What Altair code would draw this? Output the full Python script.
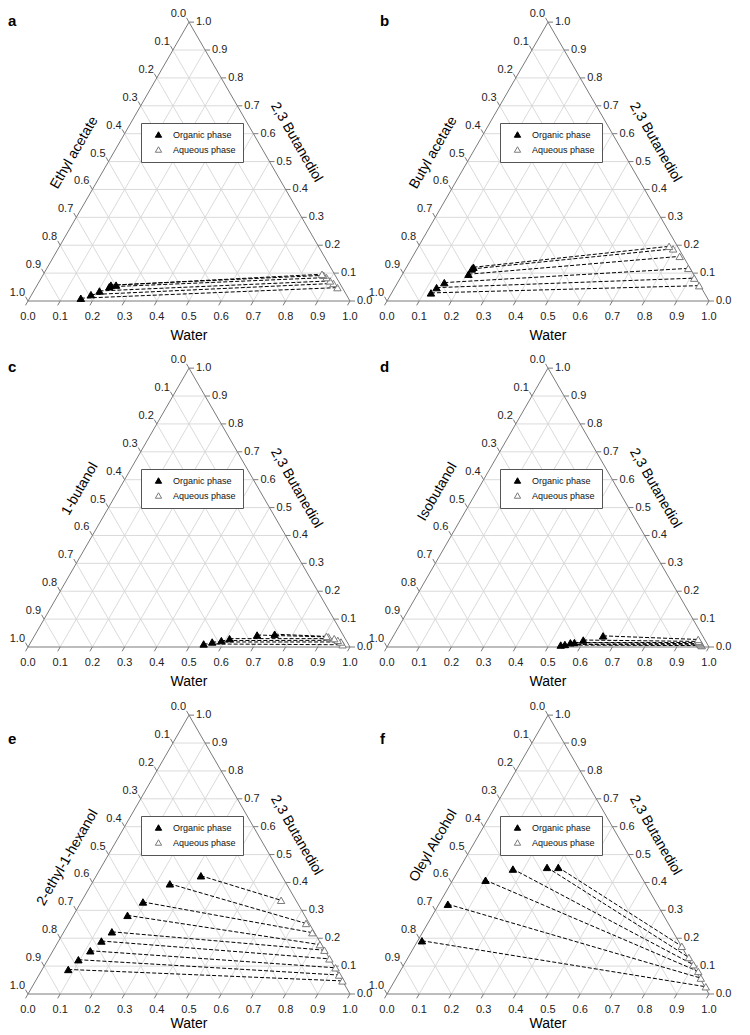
import math
import altair as alt
import pandas as pd

# ---------------- data ----------------
LETTERS = ["a", "b", "c", "d", "e", "f"]
SOLVENTS = ["Ethyl acetate", "Butyl acetate", "1-butanol", "Isobutanol",
            "2-ethyl-1-hexanol", "Oleyl Alcohol"]
WATER_TITLE = "Water"
BDO_TITLE = "2,3 Butanediol"
PHASES = ["Organic phase", "Aqueous phase"]
TICKS = [0.0, 0.1, 0.2, 0.3, 0.4, 0.5, 0.6, 0.7, 0.8, 0.9, 1.0]
TICK_LABELS = ["0.0", "0.1", "0.2", "0.3", "0.4", "0.5", "0.6", "0.7", "0.8", "0.9", "1.0"]

# mass fractions (water, 2,3-butanediol); solvent = 1 - water - butanediol
a_org_water = [0.159, 0.184, 0.204, 0.227, 0.229, 0.245]
a_org_bdo = [0.010, 0.023, 0.036, 0.051, 0.057, 0.057]
a_aq_water = [0.937, 0.917, 0.902, 0.885, 0.872, 0.865]
a_aq_bdo = [0.048, 0.063, 0.072, 0.084, 0.092, 0.096]

b_org_water = [0.122, 0.130, 0.145, 0.205, 0.206, 0.208]
b_org_bdo = [0.029, 0.048, 0.066, 0.096, 0.115, 0.121]
b_aq_water = [0.942, 0.913, 0.877, 0.829, 0.795, 0.778]
b_aq_bdo = [0.055, 0.082, 0.117, 0.160, 0.187, 0.196]

c_org_water = [0.540, 0.563, 0.589, 0.611, 0.690, 0.743]
c_org_bdo = [0.011, 0.018, 0.023, 0.030, 0.043, 0.046]
c_aq_water = [0.973, 0.963, 0.950, 0.936, 0.915, 0.908]
c_aq_bdo = [0.008, 0.018, 0.024, 0.030, 0.036, 0.038]

d_org_water = [0.536, 0.548, 0.562, 0.574, 0.597, 0.651]
d_org_bdo = [0.007, 0.009, 0.015, 0.016, 0.025, 0.040]
d_aq_water = [0.975, 0.971, 0.966, 0.962, 0.958, 0.953]
d_aq_bdo = [0.005, 0.008, 0.012, 0.016, 0.020, 0.027]

e_org_water = [0.081, 0.095, 0.116, 0.133, 0.149, 0.168, 0.192, 0.243, 0.325]
e_org_bdo = [0.088, 0.123, 0.155, 0.190, 0.223, 0.282, 0.330, 0.395, 0.424]
e_aq_water = [0.953, 0.932, 0.908, 0.873, 0.842, 0.818, 0.773, 0.737, 0.618]
e_aq_bdo = [0.047, 0.068, 0.094, 0.126, 0.157, 0.177, 0.220, 0.253, 0.336]

f_org_water = [0.013, 0.028, 0.102, 0.167, 0.270, 0.305]
f_org_bdo = [0.191, 0.322, 0.408, 0.448, 0.454, 0.454]
f_aq_water = [0.977, 0.946, 0.926, 0.899, 0.872, 0.830]
f_aq_bdo = [0.026, 0.057, 0.081, 0.105, 0.131, 0.171]

ORG = [(a_org_water, a_org_bdo), (b_org_water, b_org_bdo), (c_org_water, c_org_bdo),
       (d_org_water, d_org_bdo), (e_org_water, e_org_bdo), (f_org_water, f_org_bdo)]
AQ = [(a_aq_water, a_aq_bdo), (b_aq_water, b_aq_bdo), (c_aq_water, c_aq_bdo),
      (d_aq_water, d_aq_bdo), (e_aq_water, e_aq_bdo), (f_aq_water, f_aq_bdo)]

# ---------------- layout / style ----------------
FONT = "Liberation Sans"
S = 322.0                      # triangle side in px
SQ = math.sqrt(3) / 2
COLS = [dict(w=367, ox=20, lx=0), dict(w=367, ox=12, lx=5)]
ROWS = [dict(h=342, base=288, wt=35, ly=8),
        dict(h=342, base=292, wt=35, ly=12),
        dict(h=335, base=297, wt=30, ly=42)]


def cart(w, b):
    return w + b / 2.0, b * SQ


def seg(p, q):
    return dict(x=p[0], y=p[1], x2=q[0], y2=q[1])


grid_rows = []
for k in TICKS[1:-1]:
    grid_rows.append(seg(cart(0, k), cart(1 - k, k)))
    grid_rows.append(seg(cart(k, 0), cart(k, 1 - k)))
    grid_rows.append(seg(cart(1 - k, 0), cart(0, 1 - k)))
grid_df = pd.DataFrame(grid_rows)

edge_df = pd.DataFrame([seg(cart(0, 0), cart(1, 0)),
                        seg(cart(1, 0), cart(0, 1)),
                        seg(cart(0, 0), cart(0, 1))])

TL = 5.0 / S
tick_rows, bot_lab, right_lab, left_lab = [], [], [], []
for k, lab in zip(TICKS, TICK_LABELS):
    p = cart(k, 0)
    tick_rows.append(seg(p, (p[0] - 0.5 * TL, p[1] - SQ * TL)))
    bot_lab.append(dict(x=p[0], y=-15.5 / S, label=lab))
    p = cart(1 - k, k)
    tick_rows.append(seg(p, (p[0] + TL, p[1])))
    right_lab.append(dict(x=p[0] + 7.0 / S, y=p[1], label=lab))
    p = cart(0, 1 - k)
    tick_rows.append(seg(p, (p[0] - 0.5 * TL, p[1] + SQ * TL)))
    left_lab.append(dict(x=p[0] - 3.0 / S, y=p[1] + 8.0 / S, label=lab))
tick_df = pd.DataFrame(tick_rows)
bot_df = pd.DataFrame(bot_lab)
right_df = pd.DataFrame(right_lab)
left_df = pd.DataFrame(left_lab)


def panel(i):
    col = COLS[i % 2]
    row = ROWS[i // 2]
    W, H, ox, base = col["w"], row["h"], col["ox"], row["base"]
    xs = alt.Scale(domain=[-ox / S, (W - ox) / S], nice=False, zero=False)
    ys = alt.Scale(domain=[-(H - base) / S, base / S], nice=False, zero=False)
    X = alt.X("x:Q", scale=xs, axis=None)
    Y = alt.Y("y:Q", scale=ys, axis=None)

    def rules(df, **kw):
        return alt.Chart(df).mark_rule(**kw).encode(x=X, y=Y, x2="x2:Q", y2="y2:Q")

    def texts(df, **kw):
        return alt.Chart(df).mark_text(font=FONT, **kw).encode(x=X, y=Y, text="label:N")

    grid = rules(grid_df, color="#d6d6d6", strokeWidth=0.9)
    edges = rules(edge_df, color="#7a7a7a", strokeWidth=1)
    ticks = rules(tick_df, color="#7a7a7a", strokeWidth=1)
    lb = texts(bot_df, align="center", baseline="middle", fontSize=11, color="#222222")
    lr = texts(right_df, align="left", baseline="middle", fontSize=11, color="#222222")
    ll = texts(left_df, align="right", baseline="middle", fontSize=11, color="#222222")

    top = cart(0, 1)
    t_l, n_l = 130.0 / S, 34.0 / S
    t_r, n_r = 113.0 / S, 33.0 / S
    title_df_w = pd.DataFrame([dict(x=0.5, y=-row["wt"] / S, label=WATER_TITLE)])
    title_df_s = pd.DataFrame([dict(x=top[0] - 0.5 * t_l - SQ * n_l,
                                    y=top[1] - SQ * t_l + 0.5 * n_l, label=SOLVENTS[i])])
    title_df_b = pd.DataFrame([dict(x=top[0] + 0.5 * t_r + SQ * n_r,
                                    y=top[1] - SQ * t_r + 0.5 * n_r, label=BDO_TITLE)])
    tw = texts(title_df_w, align="center", baseline="middle", fontSize=14)
    tsol = texts(title_df_s, align="right", baseline="middle", fontSize=14, angle=300)
    tbdo = texts(title_df_b, align="left", baseline="middle", fontSize=14, angle=60)

    letter_df = pd.DataFrame([dict(x=(col["lx"] - ox) / S, y=(base - row["ly"]) / S,
                                   label=LETTERS[i])])
    letter = texts(letter_df, align="left", baseline="middle", fontSize=15, fontWeight="bold")

    ow, ob = ORG[i]
    aw, ab = AQ[i]
    tie_rows, pt_rows = [], []
    for w1, b1, w2, b2 in zip(ow, ob, aw, ab):
        p, q = cart(w1, b1), cart(w2, b2)
        tie_rows.append(seg(p, q))
        pt_rows.append(dict(x=p[0], y=p[1], phase=PHASES[0]))
        pt_rows.append(dict(x=q[0], y=q[1], phase=PHASES[1]))
    ties = rules(pd.DataFrame(tie_rows), color="black", strokeWidth=1, strokeDash=[4, 2])

    leg = alt.Legend(title=None, orient="none", legendX=ox + 113, legendY=base - 178,
                     strokeColor="#555555", fillColor="white", padding=7, rowPadding=4,
                     symbolSize=40, symbolOffset=6, labelOffset=10, labelFontSize=9,
                     labelFont=FONT, labelColor="#111111", symbolStrokeWidth=1,
                     symbolType="triangle-up")
    pts = alt.Chart(pd.DataFrame(pt_rows)).mark_point(
        shape="triangle-up", filled=True, size=55, strokeWidth=1, opacity=1
    ).encode(
        x=X, y=Y,
        fill=alt.Fill("phase:N", scale=alt.Scale(domain=PHASES, range=["black", "white"]), legend=leg),
        stroke=alt.Stroke("phase:N", scale=alt.Scale(domain=PHASES, range=["black", "#7a7a7a"]), legend=leg),
    )

    return alt.layer(grid, edges, ticks, lb, lr, ll, tw, tsol, tbdo, letter, ties, pts).properties(
        width=W, height=H)


chart = alt.concat(
    *[panel(i) for i in range(6)], columns=2, spacing=0, bounds="flush", align="each"
).resolve_scale(
    fill="independent", stroke="independent"
).resolve_legend(
    fill="independent", stroke="independent"
).properties(
    padding=0
).configure_view(stroke=None)

chart.save("out.html", embed_options={"renderer": "svg", "actions": False})
